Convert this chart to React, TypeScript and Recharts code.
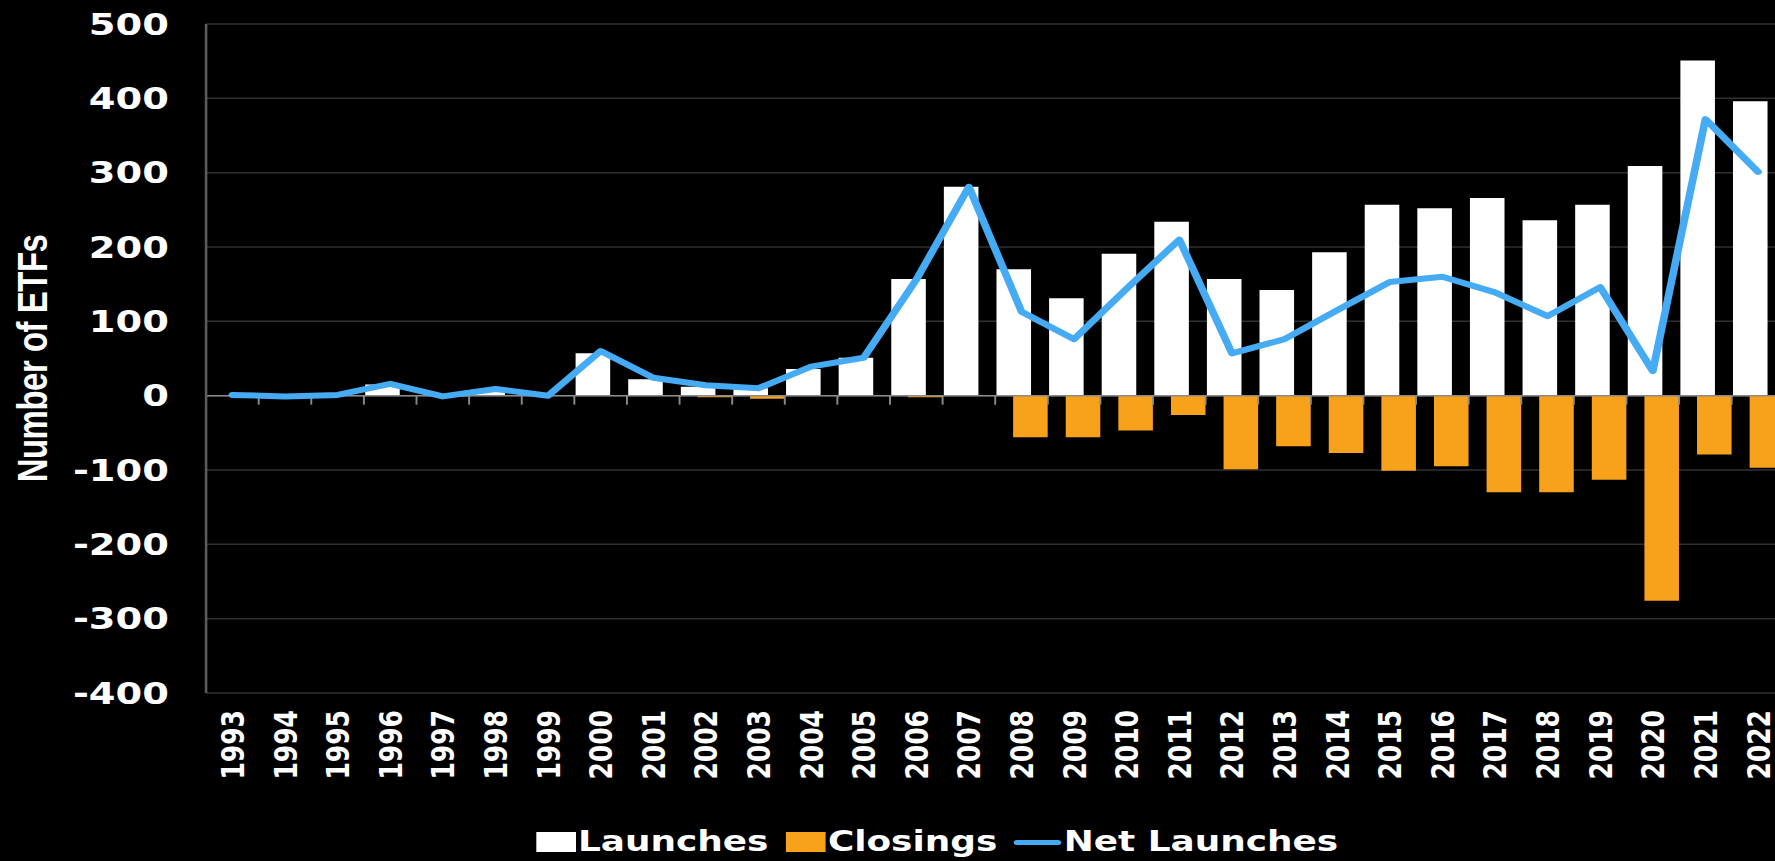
import React from "react";
import {Bar, CartesianGrid, ComposedChart, Line, ReferenceLine, XAxis, YAxis} from "recharts";

const years = [
  "1993", "1994", "1995", "1996", "1997", "1998", "1999", "2000", "2001", "2002",
  "2003", "2004", "2005", "2006", "2007", "2008", "2009", "2010", "2011", "2012",
  "2013", "2014", "2015", "2016", "2017", "2018", "2019", "2020", "2021", "2022",
];

const launches = [
  1, 0, 2, 15, 0, 7, 1, 57, 22, 12,
  10, 36, 51, 157, 281, 170, 131, 191, 234, 157,
  142, 193, 257, 252, 266, 236, 257, 309, 451, 396,
];

const closings = [
  0, 0, 0, 0, -1, 0, 0, 0, 0, -2,
  -4, 0, 0, -2, 0, -56, -56, -47, -26, -99,
  -68, -77, -101, -95, -130, -130, -113, -276, -79, -97,
];

const netLaunches = [
  1, -1, 1, 16, -1, 9, 0, 60, 24, 14,
  10, 39, 51, 156, 281, 113, 76, 144, 210, 57,
  76, 115, 153, 160, 139, 107, 146, 33, 372, 301,
];

const yTicks = [-400, -300, -200, -100, 0, 100, 200, 300, 400, 500];

const data = years.map((year, i) => ({
  year,
  launches: launches[i],
  closings: closings[i],
  net: netLaunches[i],
}));

// the source picture is stretched sideways, so the chart is drawn narrow and scaled
const STRETCH = 1.28;
const FONT = "'DejaVu Sans', Verdana, sans-serif";
const BLUE = "#45abf4";
const ORANGE = "#f8a11b";

const YearTick = ({x, y, payload}: any) => (
  <text
    x={x}
    y={y}
    transform={`rotate(-90, ${x}, ${y})`}
    textAnchor="end"
    dy="0.36em"
    fill="#fff"
    fontSize={25}
    fontWeight="bold"
    fontFamily={FONT}
  >
    {payload.value}
  </text>
);

// zero line with Excel style tick marks between the categories
const ZeroAxis = (props: any) => {
  const {x1, x2, y1} = props;
  const band = (x2 - x1) / years.length;
  return (
    <g>
      <line x1={x1} x2={x2} y1={y1} y2={y1} stroke="#8a8a8a" strokeWidth={1.5}/>
      {years.map((_, i) => (
        <line key={i} x1={x1 + band * i} x2={x1 + band * i} y1={y1} y2={y1 + 9} stroke="#8a8a8a" strokeWidth={1.5}/>
      ))}
    </g>
  );
};

const YLabel = ({viewBox}: any) => {
  const x = viewBox.x + 25;
  const y = viewBox.y + viewBox.height / 2;
  return (
    <text
      x={x}
      y={y}
      transform={`rotate(-90, ${x}, ${y})`}
      textAnchor="middle"
      dy="0.36em"
      fill="#fff"
      fontSize={33}
      fontWeight="bold"
      letterSpacing={-0.5}
      fontFamily="'Liberation Sans', Arial, sans-serif"
    >
      Number of ETFs
    </text>
  );
};

const legendText = {color: "#fff", fontFamily: FONT, fontWeight: 700, fontSize: 28, lineHeight: "20px"};

const Legend = () => (
  <div style={{position: "absolute", left: 419, top: 832, height: 20, display: "flex", alignItems: "center"}}>
    <div style={{width: 31, height: 20, background: "#fff", marginRight: 1.5}}/>
    <span style={legendText}>Launches</span>
    <div style={{width: 31, height: 20, background: ORANGE, marginLeft: 13.5, marginRight: 2}}/>
    <span style={legendText}>Closings</span>
    <div style={{width: 37, height: 5, borderRadius: 3, background: BLUE, marginLeft: 13, marginRight: 2}}/>
    <span style={legendText}>Net Launches</span>
  </div>
);

const App = () => {
  return (
    <div style={{position: "absolute", left: 0, top: 0, width: 1775, height: 861, overflow: "hidden", background: "#000"}}>
      <div style={{position: "relative", width: 1394, height: 861, transform: `scaleX(${STRETCH})`, transformOrigin: "0 0"}}>
        <ComposedChart
          width={1394}
          height={861}
          data={data}
          margin={{top: 24, right: 0, bottom: 0, left: 0}}
          barSize={27}
          barGap={-14}
        >
          <CartesianGrid vertical={false} stroke="#303030" strokeWidth={1.5}/>
          <XAxis
            dataKey="year"
            interval={0}
            height={168}
            axisLine={false}
            tickLine={false}
            tickSize={0}
            tickMargin={17}
            tick={<YearTick/>}
          />
          <YAxis
            domain={[-400, 500]}
            ticks={yTicks}
            width={161}
            tickLine={false}
            tickSize={0}
            tickMargin={29}
            axisLine={{stroke: "#5c5c5c", strokeWidth: 2}}
            tick={{fill: "#fff", fontSize: 30, fontWeight: "bold", fontFamily: FONT}}
            label={{content: YLabel}}
          />
          <ReferenceLine y={0} shape={ZeroAxis}/>
          <Bar dataKey="launches" name="Launches" fill="#fff" isAnimationActive={false}/>
          <Bar dataKey="closings" name="Closings" fill={ORANGE} isAnimationActive={false}/>
          <Line
            dataKey="net"
            name="Net Launches"
            type="linear"
            stroke={BLUE}
            strokeWidth={6}
            strokeLinejoin="round"
            strokeLinecap="round"
            dot={false}
            activeDot={false}
            isAnimationActive={false}
          />
        </ComposedChart>
        <Legend/>
      </div>
    </div>
  );
};

export default App;
